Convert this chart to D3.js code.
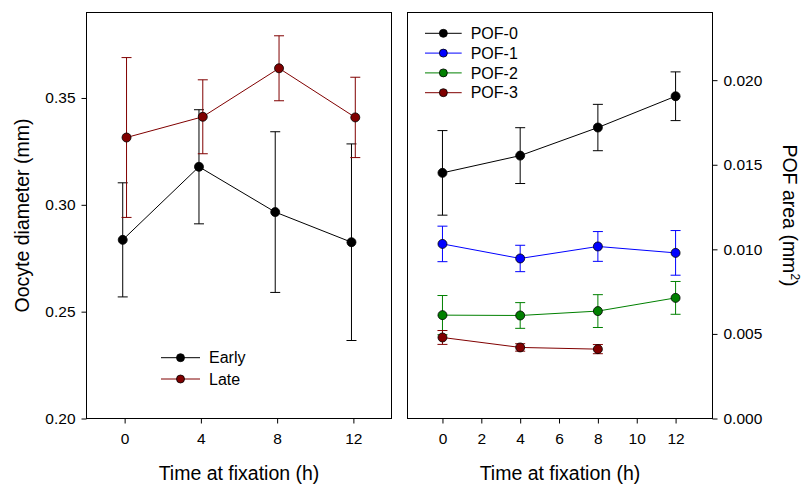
<!DOCTYPE html>
<html>
<head>
<meta charset="utf-8">
<script src="https://cdn.jsdelivr.net/npm/d3@7"></script>
<style>
  html, body { margin: 0; padding: 0; background: #fff; }
  svg { display: block; font-family: "Liberation Sans", Arial, sans-serif; }
  .tick text { fill: #000; }
</style>
</head>
<body>
<svg id="chart" width="807" height="484"></svg>
<script>
// Sampling times (hours after fixation)
const times = [0, 4, 8, 12];
const timesPof3 = [0, 4, 8];

// Oocyte diameter (mm): mean and error
const earlyMean = [0.2836, 0.3178, 0.2966, 0.2825];
const earlyErr  = [0.0267, 0.0267, 0.0376, 0.0460];
const lateMean  = [0.3315, 0.3412, 0.3639, 0.3409];
const lateErr   = [0.0374, 0.0173, 0.0152, 0.0188];

// POF area (mm²): mean and error
const pof0Mean = [0.01452, 0.01554, 0.01720, 0.01905];
const pof0Err  = [0.00250, 0.00165, 0.00137, 0.00144];
const pof1Mean = [0.01032, 0.00946, 0.01017, 0.00979];
const pof1Err  = [0.00105, 0.00078, 0.00088, 0.00132];
const pof2Mean = [0.00611, 0.00609, 0.00635, 0.00713];
const pof2Err  = [0.00116, 0.00076, 0.00097, 0.00097];
const pof3Mean = [0.00479, 0.00420, 0.00410];
const pof3Err  = [0.00041, 0.00022, 0.00027];

// Tick values
const leftXTicks  = [0, 4, 8, 12];
const leftYTicks  = [0.20, 0.25, 0.30, 0.35];
const rightXTicks = [0, 2, 4, 6, 8, 10, 12];
const rightYTicks = [0, 0.005, 0.010, 0.015, 0.020];

const svg = d3.select("#chart");

const TICK = 5, CAP = 5, R = 4.5;
const tickFont = "15.5px", titleFont = "19.5px", legendFont = "16px";

function series(name, color, xs, means, errs) {
  return { name, color, pts: xs.map((t, i) => ({ t, m: means[i], e: errs[i] })) };
}

function drawSeries(g, x, y, s, dodge) {
  const grp = g.append("g");
  const lineGen = d3.line().x(d => x(d.t + dodge)).y(d => y(d.m));
  // error bars
  s.pts.forEach(d => {
    const cx = x(d.t + dodge);
    grp.append("line").attr("x1", cx).attr("x2", cx)
      .attr("y1", y(d.m - d.e)).attr("y2", y(d.m + d.e))
      .attr("stroke", s.color).attr("stroke-width", 1);
    [d.m - d.e, d.m + d.e].forEach(v => {
      grp.append("line").attr("x1", cx - CAP).attr("x2", cx + CAP)
        .attr("y1", y(v)).attr("y2", y(v))
        .attr("stroke", s.color).attr("stroke-width", 1);
    });
  });
  grp.append("path").datum(s.pts).attr("d", lineGen)
    .attr("fill", "none").attr("stroke", s.color).attr("stroke-width", 1);
  grp.selectAll("circle").data(s.pts).enter().append("circle")
    .attr("cx", d => x(d.t + dodge)).attr("cy", d => y(d.m)).attr("r", R)
    .attr("fill", s.color).attr("stroke", "#000").attr("stroke-width", 0.8);
}

function drawLegend(g, items, x0, x1, y0, dy) {
  items.forEach((s, i) => {
    const yy = y0 + i * dy;
    g.append("line").attr("x1", x0).attr("x2", x1).attr("y1", yy).attr("y2", yy)
      .attr("stroke", s.color).attr("stroke-width", 1);
    g.append("circle").attr("cx", (x0 + x1) / 2).attr("cy", yy).attr("r", 4)
      .attr("fill", s.color).attr("stroke", "#000").attr("stroke-width", 0.8);
    g.append("text").attr("x", x1 + 9).attr("y", yy).attr("dy", "0.35em")
      .attr("font-size", legendFont).text(s.name);
  });
}

function styleAxis(g) {
  g.select(".domain").remove();
  g.selectAll(".tick line").attr("stroke", "#000");
  g.selectAll(".tick text").attr("font-size", tickFont);
}

// ---------- Left panel: oocyte diameter ----------
{
  const L = 86.5, Rr = 391.5, T = 12.5, B = 418.5;
  const x = d3.scaleLinear().domain([-2, 14]).range([L, Rr]);
  const y = d3.scaleLinear().domain([0.20, 0.39]).range([B, T]);
  const g = svg.append("g");

  g.append("g").attr("transform", `translate(0,${B})`)
    .call(d3.axisBottom(x).tickValues(leftXTicks).tickSize(TICK).tickPadding(9).tickFormat(d3.format("d")))
    .call(styleAxis);
  g.append("g").attr("transform", `translate(${L},0)`)
    .call(d3.axisLeft(y).tickValues(leftYTicks).tickSize(TICK).tickPadding(6).tickFormat(d3.format(".2f")))
    .call(styleAxis);

  g.append("rect").attr("x", L).attr("y", T).attr("width", Rr - L).attr("height", B - T)
    .attr("fill", "none").attr("stroke", "#000").attr("stroke-width", 1);

  const early = series("Early", "#000000", times, earlyMean, earlyErr);
  const late  = series("Late", "#800000", times, lateMean, lateErr);
  drawSeries(g, x, y, early, -0.1);
  drawSeries(g, x, y, late, 0.1);

  drawLegend(g, [early, late], 161, 200, 357.7, 21.3);

  g.append("text").attr("x", (L + Rr) / 2).attr("y", 480)
    .attr("text-anchor", "middle").attr("font-size", titleFont).text("Time at fixation (h)");
  g.append("text").attr("transform", `translate(29,${(T + B) / 2}) rotate(-90)`)
    .attr("text-anchor", "middle").attr("font-size", titleFont).text("Oocyte diameter (mm)");
}

// ---------- Right panel: POF area ----------
{
  const L = 407.5, Rr = 712.5, T = 12.5, B = 418.5;
  const x = d3.scaleLinear().domain([-1.8, 13.9]).range([L, Rr]);
  const y = d3.scaleLinear().domain([0, 0.024]).range([B, T]);
  const g = svg.append("g");

  g.append("g").attr("transform", `translate(0,${B})`)
    .call(d3.axisBottom(x).tickValues(rightXTicks).tickSize(TICK).tickPadding(9).tickFormat(d3.format("d")))
    .call(styleAxis);
  g.append("g").attr("transform", `translate(${Rr},0)`)
    .call(d3.axisRight(y).tickValues(rightYTicks).tickSize(TICK).tickPadding(6).tickFormat(d3.format(".3f")))
    .call(styleAxis);

  g.append("rect").attr("x", L).attr("y", T).attr("width", Rr - L).attr("height", B - T)
    .attr("fill", "none").attr("stroke", "#000").attr("stroke-width", 1);

  const pof = [
    series("POF-0", "#000000", times, pof0Mean, pof0Err),
    series("POF-1", "#0000ff", times, pof1Mean, pof1Err),
    series("POF-2", "#008000", times, pof2Mean, pof2Err),
    series("POF-3", "#800000", timesPof3, pof3Mean, pof3Err)
  ];
  pof.forEach(s => drawSeries(g, x, y, s, 0));

  drawLegend(g, pof, 425, 461.7, 33.3, 19.8);

  g.append("text").attr("x", (L + Rr) / 2).attr("y", 480)
    .attr("text-anchor", "middle").attr("font-size", titleFont).text("Time at fixation (h)");
  const yt = g.append("text").attr("transform", `translate(783,${(T + B) / 2}) rotate(90)`)
    .attr("text-anchor", "middle").attr("font-size", titleFont);
  yt.append("tspan").text("POF area (mm");
  yt.append("tspan").attr("font-size", "12px").attr("dy", "-8").text("2");
  yt.append("tspan").attr("dy", "8").text(")");
}
</script>
</body>
</html>
